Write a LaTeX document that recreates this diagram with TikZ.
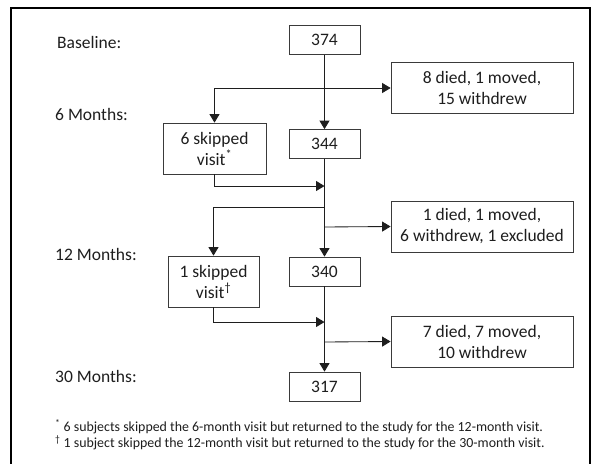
\documentclass[tikz,border=0pt]{standalone}
\usepackage{fontspec}
\setmainfont{Carlito}
\usetikzlibrary{arrows.meta}
\definecolor{boxline}{HTML}{3A3A3A}
\definecolor{ink}{HTML}{1E1E1E}
\tikzset{
  box/.style={draw=boxline, line width=0.8pt, inner sep=0pt, align=center,
    text=ink, font=\fontsize{17.5}{21}\selectfont},
  numbox/.style={box, minimum width=71pt, minimum height=29pt},
  sidebox/.style={box, minimum width=182pt, minimum height=51pt},
  skipbox/.style={box, minimum height=51pt},
  lbl/.style={anchor=west, inner sep=0pt, text=ink, font=\fontsize{17.5}{21}\selectfont},
  foot/.style={anchor=west, inner sep=0pt, text=ink, font=\fontsize{13.9}{16}\selectfont},
  conn/.style={draw=ink, line width=0.85pt},
  arr/.style={conn, -{Triangle[length=8.5pt,width=10pt]}},
}
\begin{document}
\begin{tikzpicture}[x=1pt,y=-1pt]
\useasboundingbox (0,0) rectangle (591,463);
\clip (0,0) rectangle (591,463);
\fill[white] (0,0) rectangle (591,463);
\draw[line width=2.5pt, black] (11,8) rectangle (590,480);

% labels
\node[lbl] (lb0) at (57,42) {Baseline:};
\node[lbl] (lb6) at (55,114) {6 Months:};
\node[lbl] (lb12) at (55,254) {12 Months:};
\node[lbl] (lb30) at (55,376) {30 Months:};

% boxes
\node[numbox] (n374) at (324.5,40) {374};
\node[sidebox] (d1) at (482,88) {8 died, 1 moved,\\15 withdrew};
\node[skipbox, minimum width=103pt] (s6) at (214.5,148.5) {6 skipped\\visit\textsuperscript{*}};
\node[numbox] (n344) at (324.5,144) {344};
\node[sidebox] (d2) at (482,226.5) {1 died, 1 moved,\\6 withdrew, 1 excluded};
\node[skipbox, minimum width=91pt] (s1) at (213.5,281.5) {1 skipped\\visit\textsuperscript{†}};
\node[numbox] (n340) at (324.5,271.5) {340};
\node[sidebox] (d3) at (482,341.5) {7 died, 7 moved,\\10 withdrew};
\node[numbox] (n317) at (324.5,386.5) {317};

% junction points on the main line
\coordinate (j1) at (324.5,88);
\coordinate (j2) at (324.5,186);
\coordinate (j3) at (324.5,207);
\coordinate (j4) at (324.5,227);
\coordinate (j5) at (324.5,322);
\coordinate (j6) at (324.5,342);

% main line
\draw[arr] (n374.south) -- (n344.north);
\draw[arr] (n344.south) -- (n340.north);
\draw[arr] (n340.south) -- (n317.north);

% 6 months branches
\draw[arr] (j1) -| (s6.north);
\draw[arr] (j1) -- (d1.west);
\draw[arr] (s6.south) |- (j2);

% 12 months branches
\draw[arr] (j3) -| (s1.north);
\draw[arr] (j4) -- (d2.west);
\draw[arr] (s1.south) |- (j5);

% 30 months branch
\draw[arr] (j6) -- (d3.west);

% footnotes
\node[foot] (f1) at (55,427) {\textsuperscript{*} 6 subjects skipped the 6-month visit but returned to the study for the 12-month visit.};
\node[foot] (f2) at (55,443) {\textsuperscript{†} 1 subject skipped the 12-month visit but returned to the study for the 30-month visit.};
\end{tikzpicture}
\end{document}
